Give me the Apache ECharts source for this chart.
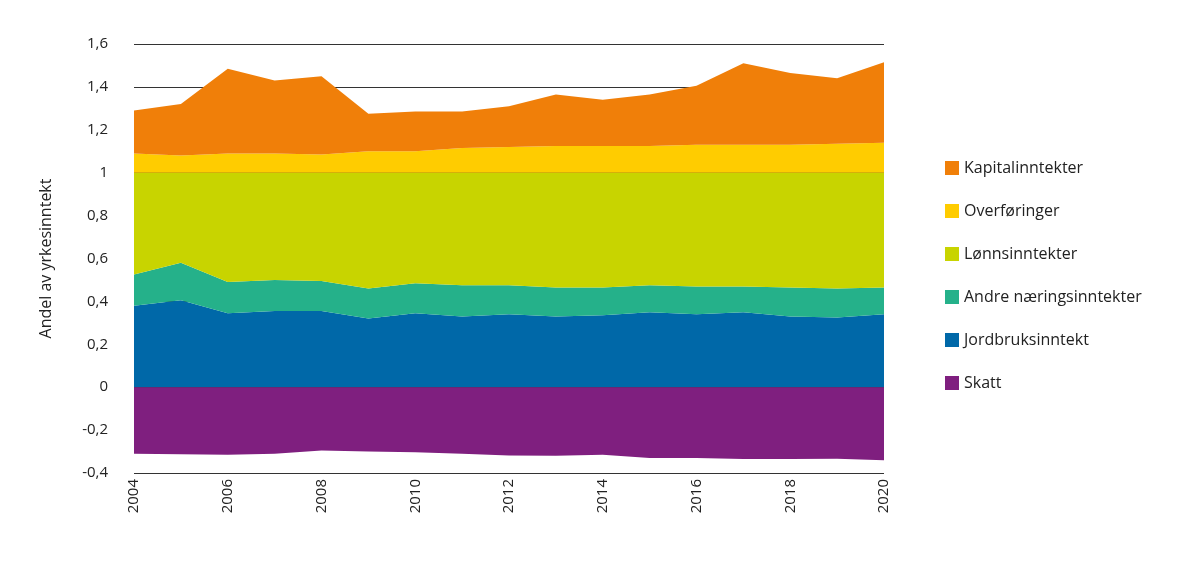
<!DOCTYPE html>
<html><head><meta charset="utf-8">
<script src="https://cdn.jsdelivr.net/npm/echarts@6/dist/echarts.min.js"></script>
<style>html,body{margin:0;background:#fff}#c{width:1200px;height:569px}</style>
</head><body><div id="c"></div>
<script>
const years = ['2004','2005','2006','2007','2008','2009','2010','2011','2012','2013','2014','2015','2016','2017','2018','2019','2020']
// cumulative tops
const jordTop = [0.38, 0.405, 0.345, 0.355, 0.355, 0.32, 0.345, 0.33, 0.34, 0.33, 0.335, 0.35, 0.34, 0.35, 0.33, 0.325, 0.34]
const andreTop = [0.525, 0.58, 0.49, 0.50, 0.495, 0.46, 0.485, 0.475, 0.475, 0.465, 0.465, 0.475, 0.47, 0.47, 0.465, 0.46, 0.465]
const lonnTop = [1.0, 1.0, 1.0, 1.0, 1.0, 1.0, 1.0, 1.0, 1.0, 1.0, 1.0, 1.0, 1.0, 1.0, 1.0, 1.0, 1.0]
const overfTop = [1.09, 1.08, 1.09, 1.09, 1.085, 1.10, 1.10, 1.115, 1.12, 1.125, 1.125, 1.125, 1.13, 1.13, 1.13, 1.135, 1.14]
const kapTop = [1.29, 1.32, 1.485, 1.43, 1.45, 1.275, 1.285, 1.285, 1.31, 1.365, 1.34, 1.365, 1.405, 1.51, 1.465, 1.44, 1.515]
const skatt = [-0.31, -0.313, -0.315, -0.31, -0.295, -0.30, -0.303, -0.31, -0.318, -0.32, -0.315, -0.33, -0.33, -0.335, -0.335, -0.333, -0.34]

const diff = (a, b) => a.map((v, i) => +(v - b[i]).toFixed(3))
const series = [
  { name: 'Jordbruksinntekt', data: jordTop, color: '#0068a8' },
  { name: 'Andre næringsinntekter', data: diff(andreTop, jordTop), color: '#25b18a' },
  { name: 'Lønnsinntekter', data: diff(lonnTop, andreTop), color: '#c8d400' },
  { name: 'Overføringer', data: diff(overfTop, lonnTop), color: '#ffcc00' },
  { name: 'Kapitalinntekter', data: diff(kapTop, overfTop), color: '#f07f09' },
  { name: 'Skatt', data: skatt, color: '#7f1f7f' }
].map(s => ({
  name: s.name, type: 'line', stack: 'a', data: s.data, symbol: 'none',
  lineStyle: { width: 0 }, areaStyle: { color: s.color, opacity: 1 }, itemStyle: { color: s.color }
}))

const myChart = echarts.init(document.getElementById('c'))
myChart.setOption({
  animation: false,
  textStyle: { fontFamily: 'Open Sans' },
  grid: { left: 134, right: 316, top: 44, bottom: 96 },
  legend: {
    orient: 'vertical', left: 940, top: 155, itemWidth: 14, itemHeight: 14, itemGap: 27,
    icon: 'rect', textStyle: { fontSize: 16, color: '#222' },
    data: ['Kapitalinntekter', 'Overføringer', 'Lønnsinntekter', 'Andre næringsinntekter', 'Jordbruksinntekt', 'Skatt']
  },
  xAxis: {
    type: 'category', data: years, boundaryGap: false,
    axisLine: { show: false }, axisTick: { show: false },
    axisLabel: { rotate: 90, fontSize: 15, color: '#222', interval: 1, margin: 6 }
  },
  yAxis: {
    type: 'value', min: -0.4, max: 1.6, interval: 0.2,
    name: 'Andel av yrkesinntekt', nameLocation: 'middle', nameGap: 80,
    nameTextStyle: { fontSize: 16, color: '#222' },
    axisLabel: { fontSize: 15, color: '#222', margin: 26, formatter: v => String(+v.toFixed(1)).replace('.', ',') },
    splitLine: { lineStyle: { color: '#333', width: 1 } }
  },
  series
})
</script></body></html>
